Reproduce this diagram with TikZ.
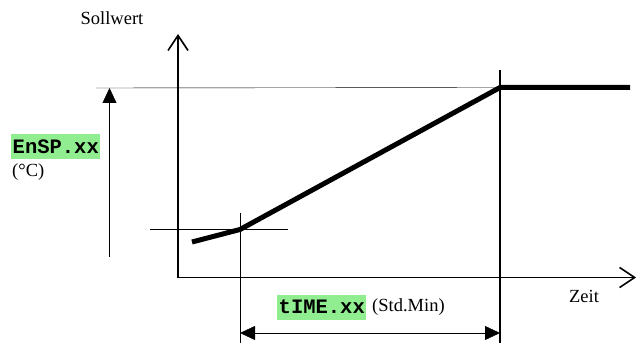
\documentclass[tikz,border=0pt]{standalone}
\usepackage{fontspec}
\setmainfont{Liberation Serif}
\setmonofont{Liberation Mono}
\usetikzlibrary{arrows.meta}
\definecolor{lgreen}{HTML}{90EE90}
\definecolor{thin}{RGB}{90,90,90}
\begin{document}
\begin{tikzpicture}[x=1pt,y=-1pt,
  lbl/.style={inner sep=0pt,font=\fontsize{18.5}{20}\selectfont},
  code/.style={fill=lgreen,inner xsep=1.5pt,inner ysep=0pt,minimum height=25pt,font=\fontsize{20.5}{22}\selectfont\ttfamily\bfseries},
  axis/.style={line width=1.6pt,-{Straight Barb[length=15pt,width=20pt]}},
  guide/.style={line width=1.2pt,thin},
  dim/.style={line width=1.2pt,thin},
  tri/.tip={Triangle[length=15pt,width=14pt,fill=black,color=black]},
  curve/.style={line width=5pt,line join=round}]
\useasboundingbox (0,0) rectangle (636,344);
% key points
\coordinate (O) at (178,277.5);
\coordinate (ytop) at (178,34);
\coordinate (xend) at (636,277.5);
\coordinate (p0) at (192,242);
\coordinate (p1) at (240,229.5);
\coordinate (p2) at (500,87.5);
\coordinate (p3) at (630,87.5);
\coordinate (hl) at (96,88);
\coordinate (gl) at (150,229.5);
\coordinate (gr) at (288,229.5);
\coordinate (v1t) at (240,213);
\coordinate (v1b) at (240,343);
\coordinate (v2t) at (500,70);
\coordinate (v2b) at (500,343);
\coordinate (ab) at (109.5,257);
\coordinate (at) at (109.5,88);
\coordinate (dl) at (240,333);
\coordinate (dr) at (500,333);
% guides
\draw[guide] (hl) -- (p2);
\draw[guide] (gl) -- (gr);
\draw[guide] (v1t) -- (v1b);
\draw[line width=1.2pt] (v2t) -- (v2b);
% axes
\draw[axis] (O) -- (ytop);
\draw[axis] (O) -- (xend);
% dimension arrows
\draw[dim,-tri] (ab) -- (at);
\draw[dim,tri-tri] (dl) -- (dr);
% setpoint curve
\draw[curve] (p0) -- (p1) -- (p2) -- (p3);
% labels
\node[lbl] (soll) at (112,18) {Sollwert};
\node[code,anchor=west] (ensp) at (11,146.5) {EnSP.xx};
\node[lbl,anchor=west] (degc) at (12,172) {(°C)};
\node[code,anchor=west] (time) at (277,307) {tIME.xx};
\node[lbl,anchor=west] (std) at (372,307) {(Std.Min)};
\node[lbl] (zeit) at (584,296) {Zeit};
\end{tikzpicture}
\end{document}
